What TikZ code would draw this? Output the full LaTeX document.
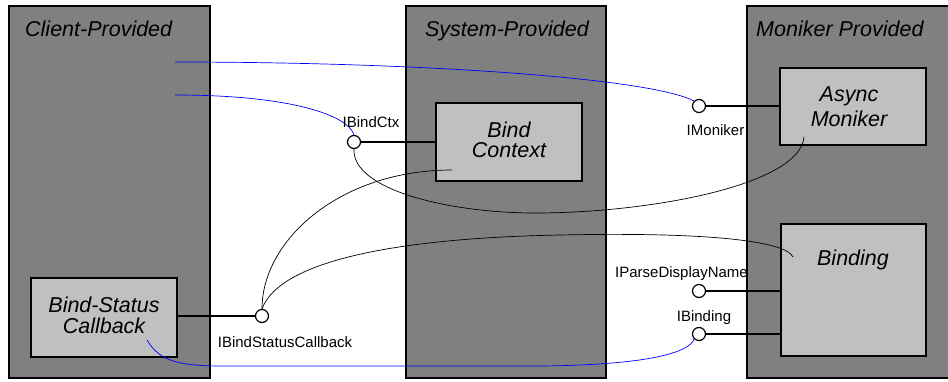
\documentclass[tikz,border=0pt]{standalone}
\usepackage{fontspec}
\setmainfont{Liberation Sans}
\definecolor{panelgray}{RGB}{128,128,128}
\definecolor{boxgray}{RGB}{192,192,192}
\definecolor{wireblue}{RGB}{0,0,255}
\begin{document}
\begin{tikzpicture}[x=1pt,y=-1pt,
  panel/.style={draw=black, line width=1.3pt, fill=panelgray, inner sep=0pt, outer sep=0pt},
  box/.style={draw=black, line width=1.3pt, fill=boxgray, inner sep=0pt, outer sep=0pt},
  title/.style={font=\fontsize{21.5}{24}\selectfont\itshape, inner sep=0pt},
  boxtext/.style={font=\fontsize{21.5}{24}\selectfont\itshape, inner sep=0pt},
  lbl/.style={font=\fontsize{15}{17}\selectfont, inner sep=0pt},
  iface/.style={circle, draw=black, fill=white, line width=1.2pt, minimum size=13pt, inner sep=0pt},
  conn/.style={line width=1.3pt},
  wire/.style={line width=0.7pt, draw=black},
  bwire/.style={line width=0.7pt, draw=wireblue}]
\useasboundingbox (0,0) rectangle (948,381);

% panels
\node[panel, minimum width=201pt, minimum height=372pt] (client) at (109.5,192) {};
\node[panel, minimum width=200pt, minimum height=372pt] (system) at (506,192) {};
\node[panel, minimum width=204pt, minimum height=372pt] (moniker) at (849,192) {};

% titles
\node[title, anchor=base west] (tclient) at (25,36.5) {Client-Provided};
\node[title, anchor=base] (tsystem) at (507,36) {System-Provided};
\node[title, anchor=base west] (tmoniker) at (756,36) {Moniker Provided};

% boxes
\node[box, minimum width=146pt, minimum height=78pt] (bindctx) at (509,142) {};
\node[box, minimum width=146pt, minimum height=77pt] (async) at (853,106.5) {};
\node[box, minimum width=145pt, minimum height=132pt] (binding) at (853.5,290) {};
\node[box, minimum width=146pt, minimum height=79pt] (bsc) at (104,317.5) {};

% box texts
\node[boxtext, anchor=base] (tbind1) at (509,137) {Bind};
\node[boxtext, anchor=base] (tbind2) at (509,157.5) {Context};
\node[boxtext, anchor=base] (tasync1) at (849,101) {Async};
\node[boxtext, anchor=base] (tasync2) at (849,126) {Moniker};
\node[boxtext, anchor=base] (tbinding) at (853,265) {Binding};
\node[boxtext, anchor=base] (tbsc1) at (104,312) {Bind-Status};
\node[boxtext, anchor=base] (tbsc2) at (104,333) {Callback};

% interface circles (positions)
\coordinate (pmon) at (699,106);
\coordinate (pctx) at (354,142);
\coordinate (pbsc) at (262,316);
\coordinate (ppdn) at (699,291);
\coordinate (pbnd) at (699,334);

% connectors to boxes
\draw[conn] (pmon) -- (async.west |- pmon);
\draw[conn] (pctx) -- (bindctx.west |- pctx);
\draw[conn] (bsc.east |- pbsc) -- (pbsc);
\draw[conn] (ppdn) -- (binding.west |- ppdn);
\draw[conn] (pbnd) -- (binding.west |- pbnd);

\node[iface] (imon) at (pmon) {};
\node[iface] (ictx) at (pctx) {};
\node[iface] (ibsc) at (pbsc) {};
\node[iface] (ipdn) at (ppdn) {};
\node[iface] (ibnd) at (pbnd) {};

% free ends
\coordinate (s1) at (175,62);
\coordinate (s2) at (175,95);
\coordinate (s3) at (147,340);
\coordinate (e1) at (804,137);
\coordinate (e2) at (452,170);
\coordinate (e3) at (793,257);

% wires
\draw[bwire] (s1) .. controls (420,62) and (650,78) .. (imon.north west);
\draw[bwire] (s2) .. controls (290,95) and (348,115) .. (ictx.north);
\draw[wire] (ictx.south) .. controls (352,190) and (450,213) .. (535,213)
   .. controls (650,213) and (800,185) .. (e1);
\draw[wire] (e2) .. controls (340,170) and (262,240) .. (ibsc.north);
\draw[wire] (ibsc.north) .. controls (280,260) and (400,238) .. (560,235)
   .. controls (700,232) and (785,240) .. (e3);
\draw[bwire] (s3) .. controls (160,362) and (180,366) .. (225,366) -- (540,366)
   .. controls (650,365) and (690,352) .. (ibnd.south west);

% labels
\node[lbl, anchor=base] (lctx) at (371,127) {IBindCtx};
\node[lbl, anchor=base] (lmon) at (715.5,135) {IMoniker};
\node[lbl, anchor=base] (lpdn) at (681.5,277) {IParseDisplayName};
\node[lbl, anchor=base] (lbnd) at (704,321) {IBinding};
\node[lbl, anchor=base] (lbsc) at (285,347) {IBindStatusCallback};
\end{tikzpicture}
\end{document}
